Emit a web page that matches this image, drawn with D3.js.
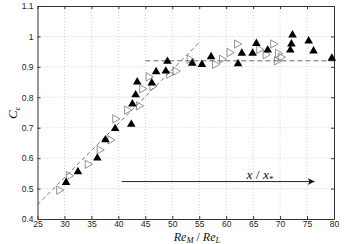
<!DOCTYPE html>
<html>
<head>
<meta charset="utf-8">
<script src="https://cdn.jsdelivr.net/npm/d3@7"></script>
<style>
  body { margin: 0; background: #fff; }
  text { font-family: "Liberation Sans", Arial, sans-serif; }
  .math { font-family: "Liberation Serif", "DejaVu Serif", serif; font-style: italic; }
</style>
</head>
<body>
<div id="container"></div>
<script>
/* CONSTANTS AND GLOBALS */
const width = 354;
const height = 244;
const margin = {top: 6, bottom: 25, left: 37.5, right: 20};

/* DATA */
// filled triangles: Re_M/Re_L, C_eps
const filledX = [30.3, 32.5, 36.1, 37.6, 39.4, 42.4, 42.6, 43.2, 43.5, 46.2, 47.0, 48.8, 49.1, 53.7, 55.5, 57.2, 62.2, 62.9, 64.9, 65.6, 67.7, 71.9, 72.1, 72.3, 75.3, 76.2, 79.6];
const filledY = [0.52, 0.555, 0.60, 0.66, 0.697, 0.711, 0.778, 0.808, 0.85, 0.847, 0.884, 0.886, 0.918, 0.912, 0.908, 0.933, 0.91, 0.945, 0.945, 0.977, 0.955, 0.955, 0.975, 1.005, 0.985, 0.952, 0.928];
// open triangles
const openX = [29.0, 30.8, 34.3, 36.5, 38.5, 39.4, 41.6, 43.8, 44.4, 45.6, 46.3, 49.4, 50.6, 53.2, 57.9, 59.2, 60.6, 62.0, 66.1, 67.3, 68.7, 69.6, 69.4, 70.1];
const openY = [0.495, 0.542, 0.58, 0.627, 0.66, 0.729, 0.758, 0.772, 0.828, 0.867, 0.836, 0.876, 0.886, 0.925, 0.908, 0.925, 0.947, 0.975, 0.957, 0.94, 0.975, 0.944, 0.92, 0.932];
// fits
const fitLineX = [25, 55];
const fitLineY = [0.447, 0.98];
const plateauX = [45, 80];
const plateauY = [0.92, 0.92];
// arrow
const arrowX = [40.6, 76.4];
const arrowY = [0.523, 0.523];

const xTicks = [25, 30, 35, 40, 45, 50, 55, 60, 65, 70, 75, 80];
const yTicks = [0.4, 0.5, 0.6, 0.7, 0.8, 0.9, 1, 1.1];

const filled = filledX.map((x, i) => ({x: x, y: filledY[i]}));
const open = openX.map((x, i) => ({x: x, y: openY[i]}));

/* SCALES */
const xScale = d3.scaleLinear()
  .domain([25, 80])
  .range([margin.left, width - margin.right]);

const yScale = d3.scaleLinear()
  .domain([0.4, 1.1])
  .range([height - margin.bottom, margin.top]);

/* HTML ELEMENTS */
const svg = d3.select("#container")
  .append("svg")
  .attr("width", width)
  .attr("height", height);

// grid
svg.append("g")
  .selectAll("line")
  .data(xTicks.slice(1, -1))
  .join("line")
  .attr("x1", d => xScale(d)).attr("x2", d => xScale(d))
  .attr("y1", yScale(1.1)).attr("y2", yScale(0.4))
  .attr("stroke", "#bbb").attr("stroke-width", 0.7)
  .attr("stroke-dasharray", "1,2");

svg.append("g")
  .selectAll("line")
  .data(yTicks.slice(1, -1))
  .join("line")
  .attr("y1", d => yScale(d)).attr("y2", d => yScale(d))
  .attr("x1", xScale(25)).attr("x2", xScale(80))
  .attr("stroke", "#bbb").attr("stroke-width", 0.7)
  .attr("stroke-dasharray", "1,2");

// axes (ticks inward, MATLAB style)
const xAxis = d3.axisBottom(xScale).tickValues(xTicks).tickSizeInner(-3).tickSizeOuter(0).tickPadding(2);
const yAxis = d3.axisLeft(yScale).tickValues(yTicks).tickFormat(d3.format("")).tickSizeInner(-3).tickSizeOuter(0).tickPadding(4);

svg.append("g")
  .attr("transform", `translate(0,${height - margin.bottom})`)
  .call(xAxis);
svg.append("g")
  .attr("transform", `translate(${margin.left},0)`)
  .call(yAxis);
svg.append("g")
  .attr("transform", `translate(0,${margin.top})`)
  .call(d3.axisTop(xScale).tickValues(xTicks).tickSizeInner(-3).tickSizeOuter(0).tickFormat(""));
svg.append("g")
  .attr("transform", `translate(${width - margin.right},0)`)
  .call(d3.axisRight(yScale).tickValues(yTicks).tickSizeInner(-3).tickSizeOuter(0).tickFormat(""));

svg.selectAll(".domain").attr("stroke", "#333");
svg.selectAll(".tick line").attr("stroke", "#333");
svg.selectAll(".tick text").attr("font-size", 8.5).attr("fill", "#222")
  .attr("font-family", "Liberation Sans, Arial, sans-serif");

// dashed fits
const line = d3.line().x(d => xScale(d[0])).y(d => yScale(d[1]));
svg.append("path")
  .attr("d", line(fitLineX.map((x, i) => [x, fitLineY[i]])))
  .attr("fill", "none").attr("stroke", "#555").attr("stroke-width", 0.8)
  .attr("stroke-dasharray", "4,3");
svg.append("path")
  .attr("d", line(plateauX.map((x, i) => [x, plateauY[i]])))
  .attr("fill", "none").attr("stroke", "#999").attr("stroke-width", 1.5)
  .attr("stroke-dasharray", "5,3");

// open triangles (pointing right)
const triOpen = d3.symbol().type(d3.symbolTriangle).size(30);
svg.append("g")
  .selectAll("path")
  .data(open)
  .join("path")
  .attr("d", triOpen)
  .attr("transform", d => `translate(${xScale(d.x)},${yScale(d.y)}) rotate(90)`)
  .attr("fill", "none").attr("stroke", "#777").attr("stroke-width", 0.8);

// filled triangles
const triFilled = d3.symbol().type(d3.symbolTriangle).size(32);
svg.append("g")
  .selectAll("path")
  .data(filled)
  .join("path")
  .attr("d", triFilled)
  .attr("transform", d => `translate(${xScale(d.x)},${yScale(d.y)})`)
  .attr("fill", "#000");

// arrow
svg.append("defs").append("marker")
  .attr("id", "head")
  .attr("viewBox", "0 0 10 10")
  .attr("refX", 10).attr("refY", 5)
  .attr("markerWidth", 10).attr("markerHeight", 7)
  .attr("markerUnits", "userSpaceOnUse")
  .attr("orient", "auto")
  .append("path")
  .attr("d", "M0,0 L10,5 L0,10 L3,5 Z")
  .attr("fill", "#111");

svg.append("line")
  .attr("x1", xScale(arrowX[0])).attr("x2", xScale(arrowX[1]))
  .attr("y1", yScale(arrowY[0])).attr("y2", yScale(arrowY[1]))
  .attr("stroke", "#222").attr("stroke-width", 1)
  .attr("marker-end", "url(#head)");

const lab = svg.append("text")
  .attr("class", "math")
  .attr("x", 260).attr("y", 179)
  .attr("text-anchor", "middle")
  .attr("font-size", 13.5).attr("fill", "#111");
lab.append("tspan").text("x");
lab.append("tspan").attr("font-style", "normal").text(" / ");
lab.append("tspan").text("x");
lab.append("tspan").attr("font-style", "normal").attr("font-size", 9).attr("dy", 3).text("*");

// x label
const xl = svg.append("text")
  .attr("class", "math")
  .attr("x", 197).attr("y", 241)
  .attr("text-anchor", "middle")
  .attr("font-size", 12).attr("fill", "#111");
xl.append("tspan").text("Re");
xl.append("tspan").attr("font-size", 8.5).attr("dy", 2).text("M");
xl.append("tspan").attr("dy", -2).attr("font-style", "normal").text(" / ");
xl.append("tspan").text("Re");
xl.append("tspan").attr("font-size", 8.5).attr("dy", 2).text("L");

// y label
const yl = svg.append("text")
  .attr("class", "math")
  .attr("transform", "translate(17,113) rotate(-90)")
  .attr("text-anchor", "middle")
  .attr("font-size", 13).attr("fill", "#111");
yl.append("tspan").text("C");
yl.append("tspan").attr("font-size", 9).attr("dy", 3).text("ε");
</script>
</body>
</html>
